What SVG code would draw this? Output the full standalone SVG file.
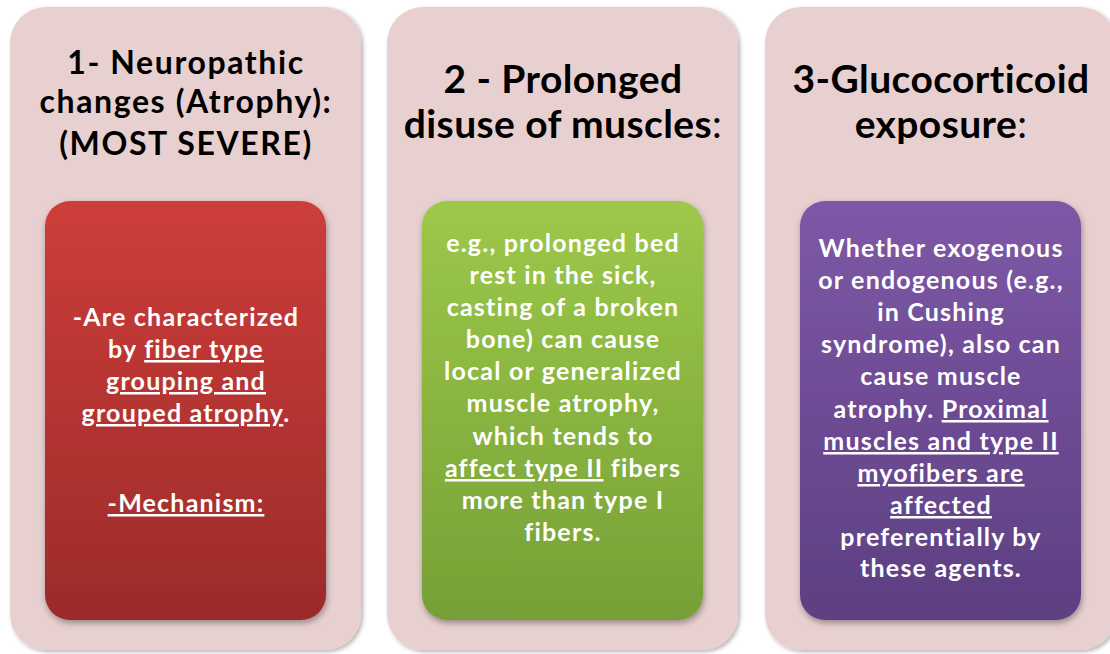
<svg xmlns="http://www.w3.org/2000/svg" width="1110" height="654" viewBox="0 0 1110 654">
<style>
.panel{fill:#e8d0d1;filter:url(#sh)}
.box{filter:url(#sh2)}
.h{font-family:Lato,"Open Sans",sans-serif;font-weight:bold;fill:#000;text-anchor:middle}
.h1{font-size:32px;letter-spacing:1.6px}
.h2{font-size:39px;letter-spacing:0.4px}
.b{font-family:Lato,"Open Sans",sans-serif;font-weight:bold;fill:#fff;text-anchor:middle;font-size:25px;letter-spacing:1.2px}
.u{text-decoration:underline}
.n{font-weight:normal}
</style>
<defs>
<filter id="sh" x="-5%" y="-5%" width="112%" height="112%">
<feDropShadow dx="2" dy="2" stdDeviation="2" flood-color="#000" flood-opacity="0.3"/>
</filter>
<filter id="sh2" x="-5%" y="-5%" width="112%" height="112%">
<feDropShadow dx="1" dy="3" stdDeviation="3" flood-color="#000" flood-opacity="0.35"/>
</filter>
<linearGradient id="gr" x1="0" y1="0" x2="0" y2="1"><stop offset="0" stop-color="#cd3d3a"/><stop offset="1" stop-color="#9b2b29"/></linearGradient>
<linearGradient id="gg" x1="0" y1="0" x2="0" y2="1"><stop offset="0" stop-color="#9dc84a"/><stop offset="1" stop-color="#76a036"/></linearGradient>
<linearGradient id="gp" x1="0" y1="0" x2="0" y2="1"><stop offset="0" stop-color="#7e58a7"/><stop offset="1" stop-color="#5d3f81"/></linearGradient>
</defs>
<rect width="1110" height="654" fill="#fff"/>
<g id="node1">
<rect class="panel" x="10" y="7" width="351" height="643" rx="36"/>
<text class="h h1" x="186" y="74">1- Neuropathic</text>
<text class="h h1" x="186" y="113">changes (Atrophy):</text>
<text class="h h1" x="186" y="155">(MOST SEVERE)</text>
<rect class="box" x="45" y="201" width="281" height="419" rx="25" fill="url(#gr)"/>
<text class="b" x="186" y="326">-Are characterized</text>
<text class="b" x="186" y="358">by <tspan class="u">fiber type</tspan></text>
<text class="b" x="186" y="390"><tspan class="u">grouping and</tspan></text>
<text class="b" x="186" y="422"><tspan class="u">grouped atrophy</tspan>.</text>
<text class="b" x="186" y="512"><tspan class="u">-Mechanism:</tspan></text>
</g>
<g id="node2">
<rect class="panel" x="387" y="7" width="351" height="643" rx="36"/>
<text class="h h2" x="563" y="93">2 - Prolonged</text>
<text class="h h2" x="563" y="138">disuse of muscles<tspan class="n">:</tspan></text>
<rect class="box" x="422" y="201" width="281" height="419" rx="25" fill="url(#gg)"/>
<text class="b" x="563" y="252">e.g., prolonged bed</text>
<text class="b" x="563" y="284">rest in the sick,</text>
<text class="b" x="563" y="316">casting of a broken</text>
<text class="b" x="563" y="348">bone) can cause</text>
<text class="b" x="563" y="380">local or generalized</text>
<text class="b" x="563" y="412">muscle atrophy,</text>
<text class="b" x="563" y="445">which tends to</text>
<text class="b" x="563" y="477"><tspan class="u">affect type II</tspan> fibers</text>
<text class="b" x="563" y="509">more than type I</text>
<text class="b" x="563" y="541">fibers.</text>
</g>
<g id="node3">
<rect class="panel" x="765" y="7" width="351" height="643" rx="36"/>
<text class="h h2" x="941" y="93">3-Glucocorticoid</text>
<text class="h h2" x="941" y="138">exposure<tspan class="n">:</tspan></text>
<rect class="box" x="800" y="201" width="281" height="419" rx="25" fill="url(#gp)"/>
<text class="b" x="941" y="257">Whether exogenous</text>
<text class="b" x="941" y="289">or endogenous (e.g.,</text>
<text class="b" x="941" y="321">in Cushing</text>
<text class="b" x="941" y="353">syndrome), also can</text>
<text class="b" x="941" y="385">cause muscle</text>
<text class="b" x="941" y="418">atrophy. <tspan class="u">Proximal</tspan></text>
<text class="b" x="941" y="450"><tspan class="u">muscles and type II</tspan></text>
<text class="b" x="941" y="482"><tspan class="u">myofibers are</tspan></text>
<text class="b" x="941" y="514"><tspan class="u">affected</tspan></text>
<text class="b" x="941" y="546">preferentially by</text>
<text class="b" x="941" y="577">these agents.</text>
</g>
<g id="connectors"/>
</svg>
